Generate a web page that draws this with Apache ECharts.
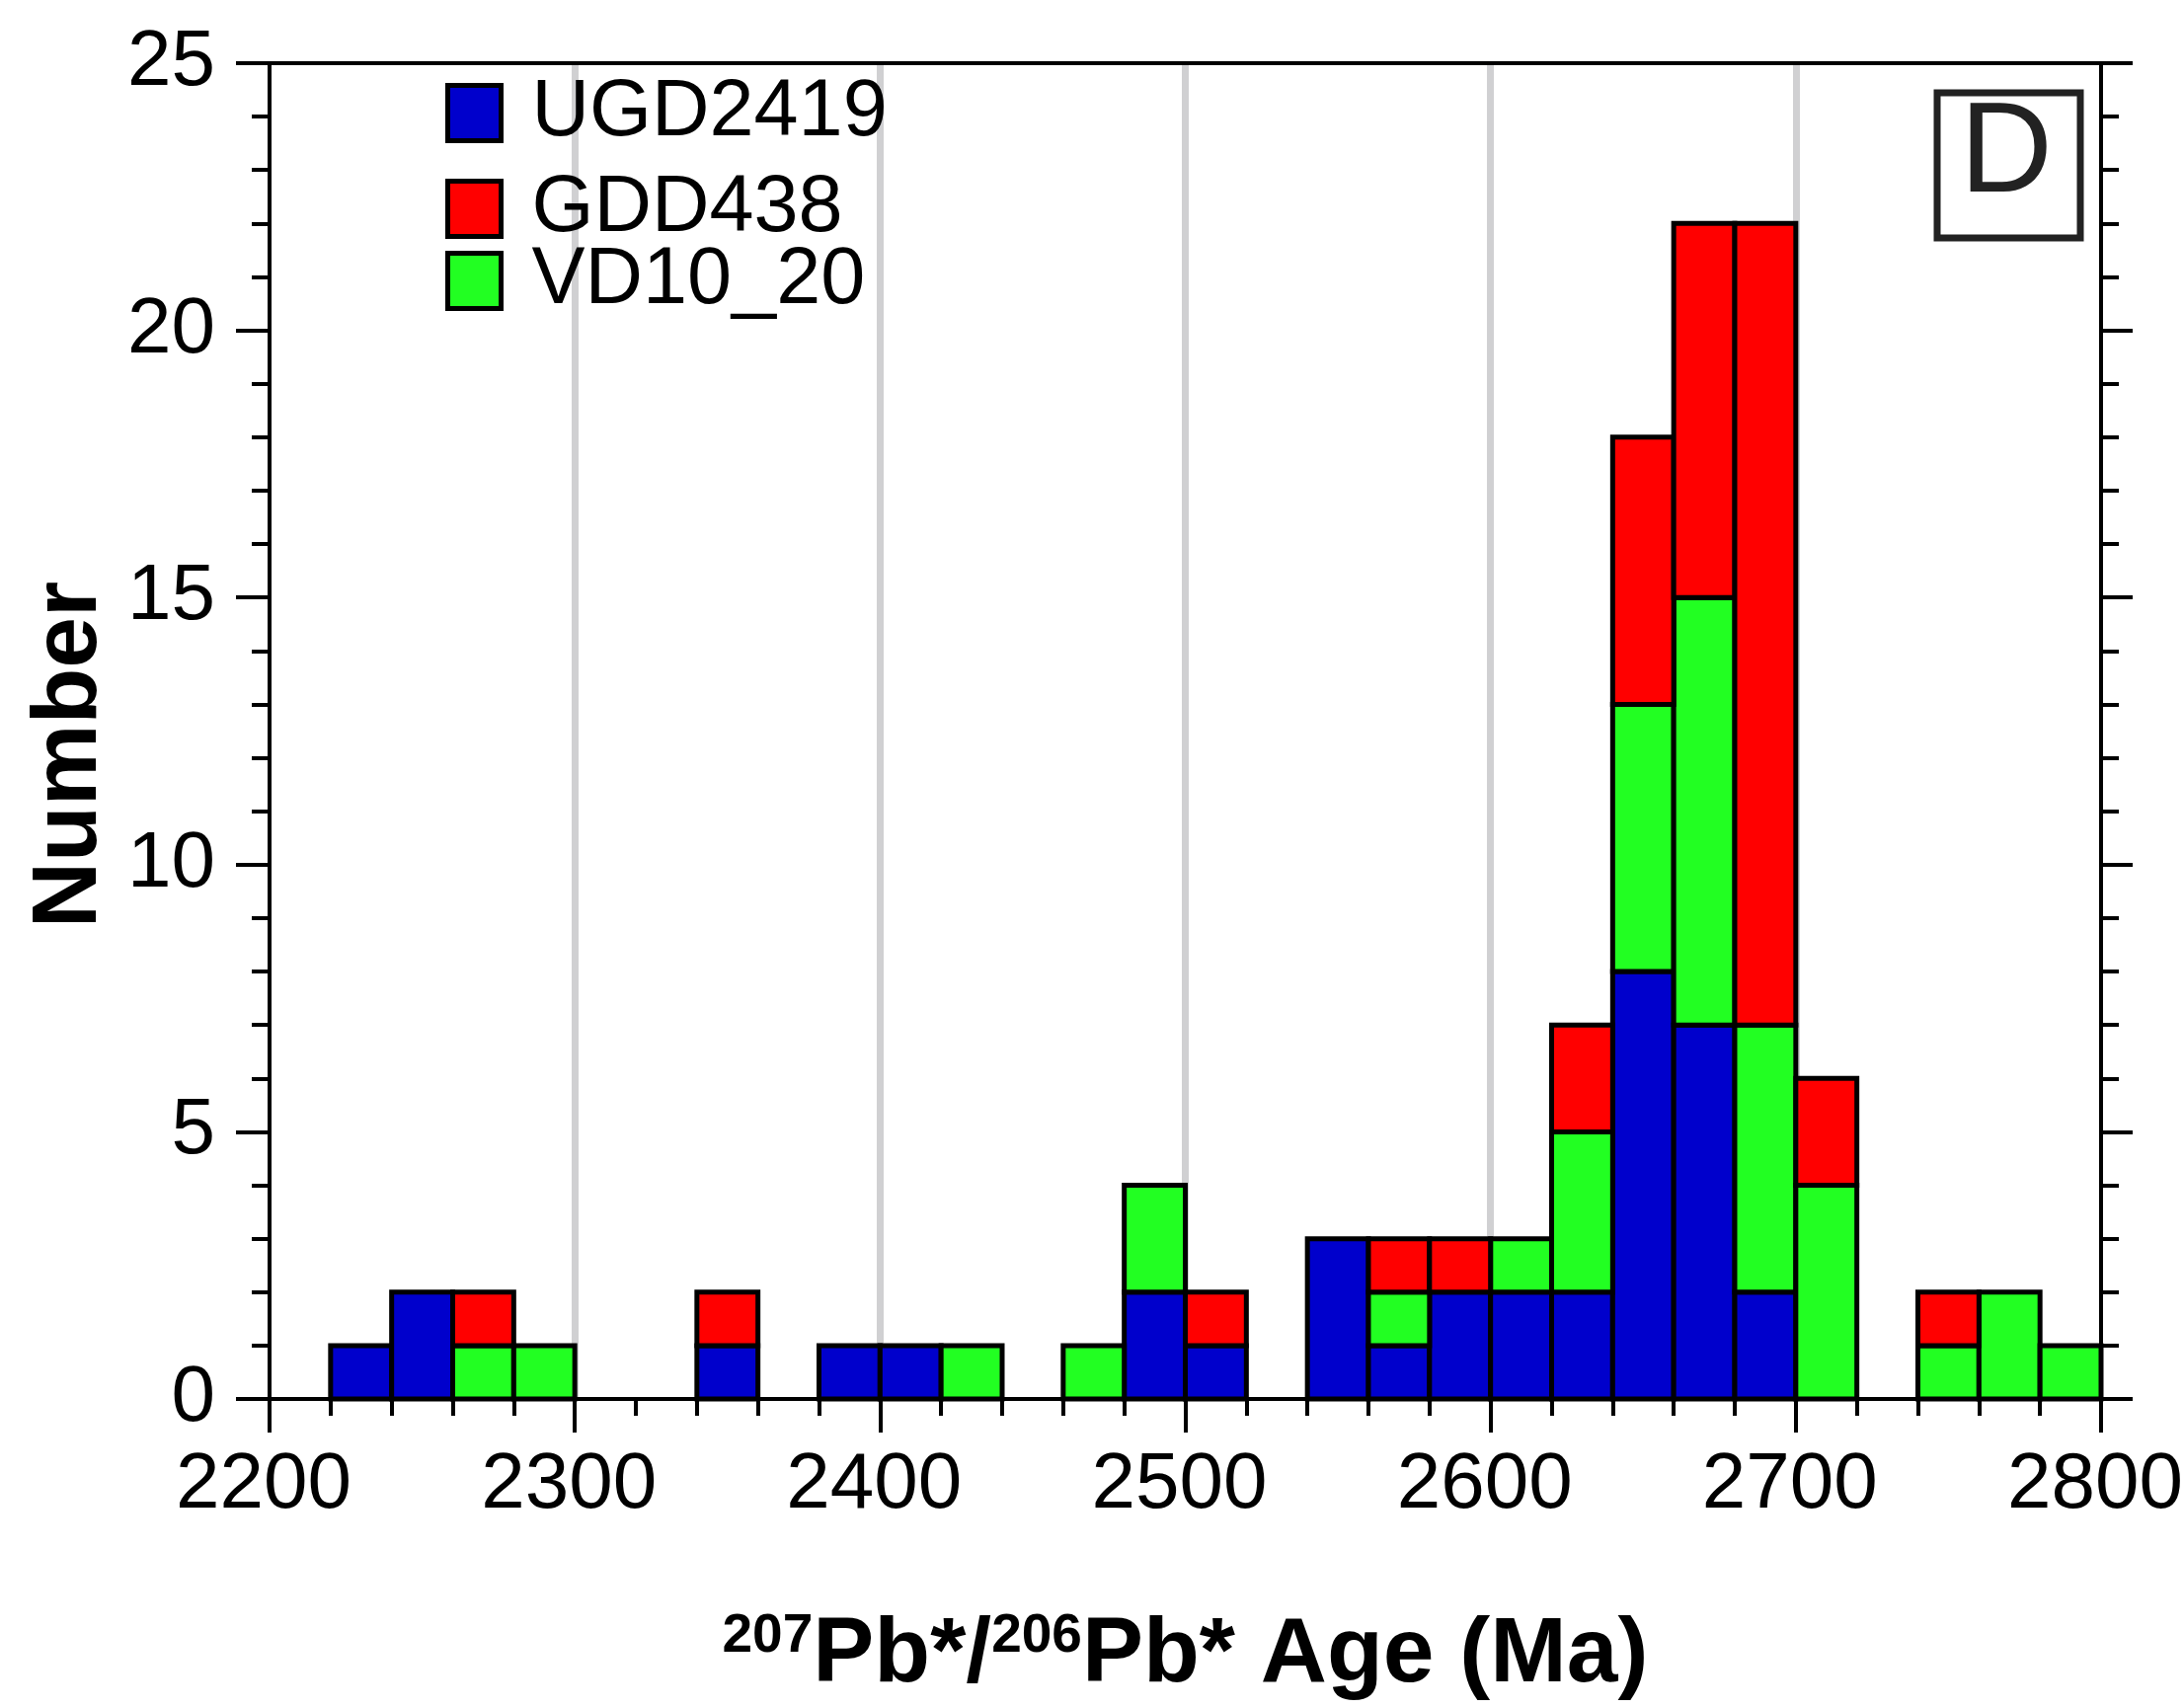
<!DOCTYPE html>
<html>
<head>
<meta charset="utf-8">
<script src="https://cdn.jsdelivr.net/npm/echarts@6/dist/echarts.min.js"></script>
<style>
  html, body { margin: 0; padding: 0; background: #ffffff; }
  #chart { width: 2212px; height: 1730px; }
</style>
</head>
<body>
<div id="chart"></div>
<script>
// 207Pb/206Pb age histogram, 20 Ma bins, three samples stacked
const binStarts = [2200, 2220, 2240, 2260, 2280, 2300, 2320, 2340, 2360, 2380,
                   2400, 2420, 2440, 2460, 2480, 2500, 2520, 2540, 2560, 2580,
                   2600, 2620, 2640, 2660, 2680, 2700, 2720, 2740, 2760, 2780];
const binWidth = 20;

const ugd2419 = [0, 1, 2, 0, 0, 0, 0, 1, 0, 1,
                 1, 0, 0, 0, 2, 1, 0, 3, 1, 2,
                 2, 2, 8, 7, 2, 0, 0, 0, 0, 0];
const vd10_20 = [0, 0, 0, 1, 1, 0, 0, 0, 0, 0,
                 0, 1, 0, 1, 2, 0, 0, 0, 1, 0,
                 1, 3, 5, 8, 5, 4, 0, 1, 2, 1];
const gdd438  = [0, 0, 0, 1, 0, 0, 0, 1, 0, 0,
                 0, 0, 0, 0, 0, 1, 0, 0, 1, 1,
                 0, 2, 5, 7, 15, 2, 0, 1, 0, 0];

const xTickValues = { min: 2200, max: 2800, step: 100 };
const yTickValues = { min: 0, max: 25, step: 5 };

const FONT = "'Liberation Sans', Arial, Helvetica, sans-serif";

// stacking order, bottom to top
const samples = [
  { name: 'UGD2419', values: ugd2419, color: '#0000cc' },
  { name: 'VD10_20', values: vd10_20, color: '#22ff22' },
  { name: 'GDD438',  values: gdd438,  color: '#ff0000' }
];

const running = binStarts.map(() => 0);
const series = samples.map(s => {
  const data = [];
  binStarts.forEach((b, i) => {
    const v = s.values[i];
    if (v > 0) data.push([b, b + binWidth, running[i], running[i] + v]);
    running[i] += v;
  });
  return {
    type: 'custom',
    name: s.name,
    xAxisIndex: 0,
    yAxisIndex: 0,
    itemStyle: { color: s.color, borderColor: '#000', borderWidth: 5 },
    encode: { x: [0, 1], y: [2, 3] },
    renderItem: (params, api) => {
      const topLeft = api.coord([api.value(0), api.value(3)]);
      const bottomRight = api.coord([api.value(1), api.value(2)]);
      return {
        type: 'rect',
        shape: {
          x: topLeft[0], y: topLeft[1],
          width: bottomRight[0] - topLeft[0],
          height: bottomRight[1] - topLeft[1]
        },
        style: { fill: s.color, stroke: '#000', lineWidth: 5 }
      };
    },
    data
  };
});

const legendCommon = {
  orient: 'vertical',
  padding: 0,
  itemWidth: 54,
  itemHeight: 56,
  icon: 'rect',
  selectedMode: false,
  itemStyle: { borderColor: '#000', borderWidth: 5 },
  textStyle: { fontSize: 81, color: '#000', fontFamily: FONT, padding: [0, 0, 0, 26] }
};

const axisLineStyle = { color: '#000', width: 4 };
const plainNumber = v => String(v);

const option = {
  backgroundColor: '#ffffff',
  animation: false,
  grid: { left: 273, right: 84, top: 64, bottom: 313, containLabel: false, outerBoundsMode: 'none' },
  legend: [
    Object.assign({ data: ['UGD2419'], left: 451, top: 74 }, legendCommon),
    Object.assign({ data: ['GDD438'],  left: 451, top: 171 }, legendCommon),
    Object.assign({ data: ['VD10_20'], left: 451, top: 244 }, legendCommon)
  ],
  xAxis: [
    {
      type: 'value',
      position: 'bottom',
      min: xTickValues.min, max: xTickValues.max, interval: xTickValues.step,
      axisLine: { show: true, onZero: false, lineStyle: axisLineStyle },
      axisTick: { show: true, length: 34, lineStyle: axisLineStyle },
      minorTick: { show: true, splitNumber: 5, length: 17, lineStyle: axisLineStyle },
      axisLabel: {
        fontSize: 80, color: '#000', fontFamily: FONT, margin: 48,
        padding: [0, 12, 0, 0], showMinLabel: true, showMaxLabel: true,
        formatter: plainNumber
      },
      splitLine: { show: true, showMinLine: false, showMaxLine: false,
                   lineStyle: { color: '#d0d0d2', width: 7 } },
      name: '{sup|207}{b|Pb*/}{sup|206}{b|Pb* Age (Ma)}',
      nameLocation: 'middle',
      nameGap: 213,
      nameTextStyle: {
        fontFamily: FONT,
        rich: {
          b: { fontSize: 93, fontWeight: 'bold', color: '#000', fontFamily: FONT, lineHeight: 94 },
          sup: { fontSize: 55, fontWeight: 'bold', color: '#000', fontFamily: FONT,
                 lineHeight: 55, verticalAlign: 'top' }
        }
      }
    },
    {
      type: 'value',
      position: 'top',
      min: xTickValues.min, max: xTickValues.max, interval: xTickValues.step,
      axisLine: { show: true, onZero: false, lineStyle: axisLineStyle },
      axisTick: { show: false },
      axisLabel: { show: false },
      splitLine: { show: false }
    }
  ],
  yAxis: [
    {
      type: 'value',
      position: 'left',
      min: yTickValues.min, max: yTickValues.max, interval: yTickValues.step,
      axisLine: { show: true, onZero: false, lineStyle: axisLineStyle },
      axisTick: { show: true, length: 34, lineStyle: axisLineStyle },
      minorTick: { show: true, splitNumber: 5, length: 18, lineStyle: axisLineStyle },
      axisLabel: { fontSize: 80, color: '#000', fontFamily: FONT, margin: 55,
                   padding: [0, 0, 14, 0], formatter: plainNumber },
      splitLine: { show: false },
      name: 'Number',
      nameLocation: 'middle',
      nameRotate: 90,
      nameGap: 150,
      nameTextStyle: { fontSize: 93, fontWeight: 'bold', color: '#000', fontFamily: FONT, padding: [0, 48, 0, 0] }
    },
    {
      type: 'value',
      position: 'right',
      min: yTickValues.min, max: yTickValues.max, interval: yTickValues.step,
      axisLine: { show: true, onZero: false, lineStyle: axisLineStyle },
      axisTick: { show: true, length: 32, lineStyle: axisLineStyle },
      minorTick: { show: true, splitNumber: 5, length: 18, lineStyle: axisLineStyle },
      axisLabel: { show: false },
      splitLine: { show: false }
    }
  ],
  graphic: [
    {
      type: 'rect',
      shape: { x: 1962, y: 94, width: 145, height: 147 },
      style: { fill: '#ffffff', stroke: '#222', lineWidth: 7 },
      z: 10
    },
    {
      type: 'text',
      x: 2032, y: 158,
      style: { text: 'D', fontSize: 130, fontFamily: FONT, fill: '#222',
               align: 'center', verticalAlign: 'middle' },
      z: 11
    }
  ],
  series
};

const chart = echarts.init(document.getElementById('chart'), null, { renderer: 'canvas' });
chart.setOption(option);
</script>
</body>
</html>
